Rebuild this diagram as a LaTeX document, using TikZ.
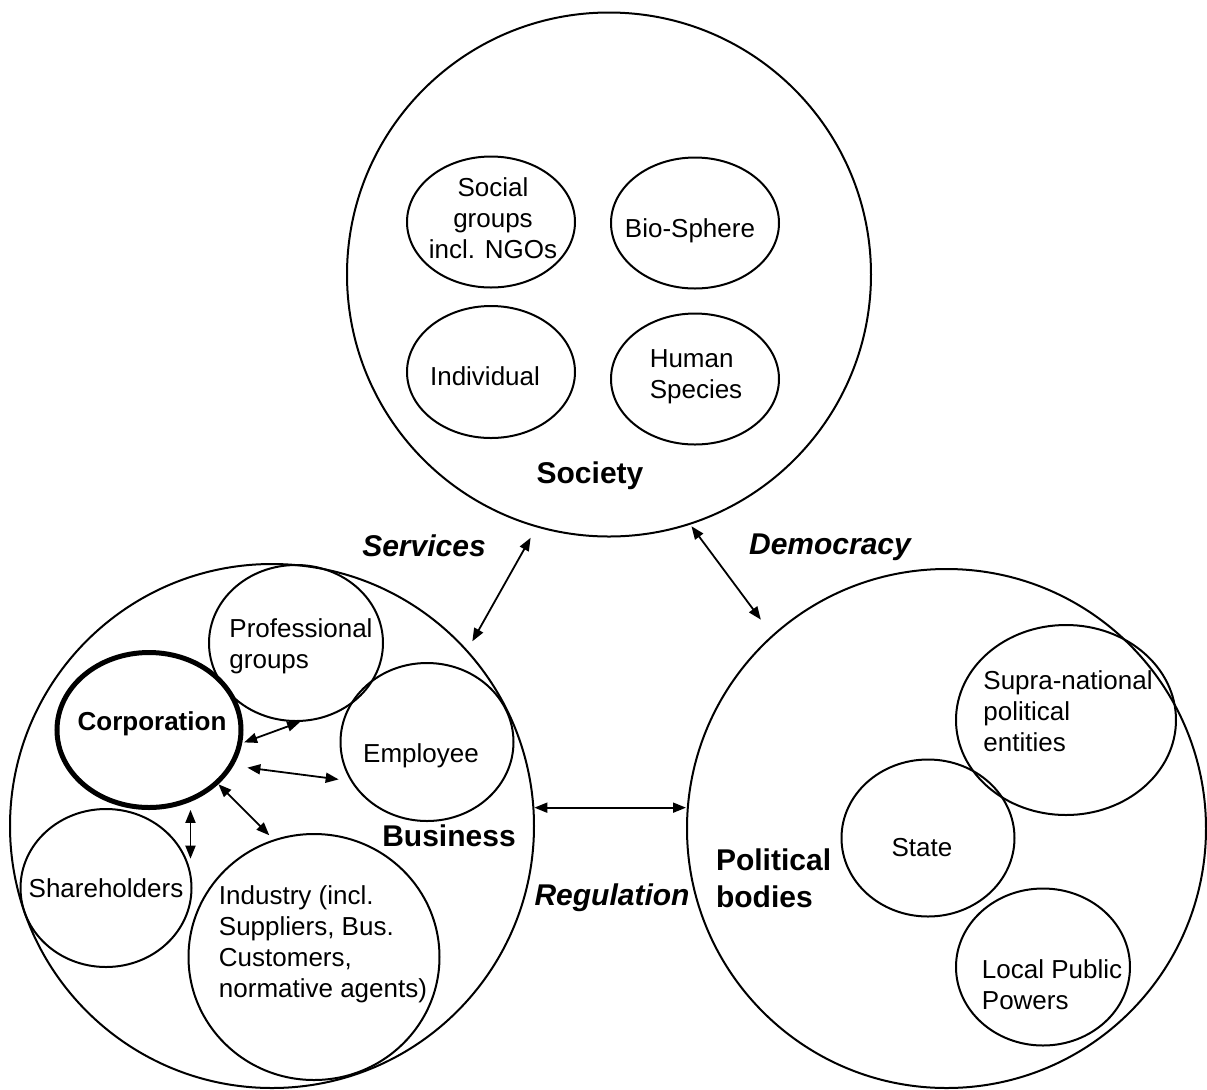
\documentclass[tikz,border=0pt]{standalone}
\usepackage{fontspec}
\setmainfont{Liberation Sans}
\usetikzlibrary{arrows.meta, shapes.geometric}

\begin{document}
\begin{tikzpicture}[
  x=0.5pt, y=-0.5pt,
  font=\fontsize{13}{15.5}\selectfont,
  sphere/.style={draw, circle, line width=1pt, inner sep=0pt, minimum size=#1pt},
  member/.style 2 args={draw, ellipse, line width=1pt, inner sep=0pt, minimum width=#1pt, minimum height=#2pt},
  lbl/.style={align=left, inner sep=0pt},
  title/.style={font=\fontsize{15}{18.5}\selectfont\bfseries, align=left},
  flow/.style={font=\fontsize{15}{18.5}\selectfont\bfseries\itshape},
  arrow/.style={{Triangle[length=6.5pt,width=5pt]}-{Triangle[length=6.5pt,width=5pt]}, line width=0.9pt}
]
\useasboundingbox (0,0) rectangle (1207,1089);

% --- Society ---
\node[sphere=262] (soc) at (609,274.5) {};
\node[member={84}{65.5}, label={[lbl, align=center, xshift=1pt, yshift=2pt]center:{Social\\groups\\incl. NGOs}}] (ngo) at (491,222) {};
\node[member={84}{65.5}, label={[lbl, xshift=-2.5pt, yshift=-4pt]center:{Bio-Sphere}}] (bio) at (695,223) {};
\node[member={84}{66}, label={[lbl, xshift=-3pt, yshift=-2pt]center:{Individual}}] (indiv) at (491,372) {};
\node[member={84}{65.5}, label={[lbl, xshift=0.5pt, yshift=1pt]center:{Human\\Species}}] (human) at (695,379) {};
\node[title] (soclbl) at (590,476) {Society};

% --- Business ---
\node[sphere=262] (bus) at (272,826) {};
\node[member={92}{77.5}, line width=2.5pt, label={[lbl, font=\fontsize{13}{15.5}\selectfont\bfseries, xshift=1.5pt, yshift=3pt]center:{Corporation}}] (corp) at (149,730) {};
\node[member={87}{78}, label={[lbl, xshift=2.5pt, yshift=-1.5pt]center:{Professional\\groups}}] (prof) at (296,643) {};
\node[member={86.5}{79}, label={[lbl, xshift=-3pt, yshift=-7pt]center:{Employee}}] (emp) at (427,742) {};
\node[member={85.5}{79}, label={[lbl]center:{Shareholders}}] (share) at (106,888) {};
\node[member={125.5}{123}, label={[lbl, xshift=4.5pt, yshift=6.5pt]center:{Industry (incl.\\Suppliers, Bus.\\Customers,\\normative agents)}}] (ind) at (314,957) {};
\node[title] (buslbl) at (449,836) {Business};

% --- Political bodies ---
\node[sphere=259.5] (pol) at (946.5,828.5) {};
\node[member={110}{95}, label={[lbl, xshift=1pt, yshift=4.5pt]center:{Supra-national\\political\\entities}}] (supra) at (1066,720) {};
\node[member={86.5}{78.5}, label={[lbl, xshift=-3pt, yshift=-5pt]center:{State}}] (state) at (928,838) {};
\node[member={87}{78.5}, label={[lbl, xshift=4.5pt, yshift=-9pt]center:{Local Public\\Powers}}] (local) at (1043,967) {};
\node[title, anchor=west] (pollbl) at (709,878) {Political\\bodies};

% --- Relations ---
\node[flow] (serv) at (424,546) {Services};
\node[flow] (demo) at (830,547) {Democracy};
\node[flow] (regu) at (612,898) {Regulation};

% --- Arrows ---
\draw[arrow, shorten <=5pt, shorten >=6pt] (bus.42) -- (soc.-106);
\draw[arrow, shorten <=1pt, shorten >=9.5pt] (soc.-72) -- (pol.132);
\draw[arrow] (bus.4) -- (bus.4 -| pol.west);
\draw[arrow, shorten <=1pt] (corp.-8) -- (prof.-87);
\draw[arrow, shorten <=7pt, shorten >=6pt] (corp.-23) -- (emp.-153);
\draw[arrow, shorten >=3pt] (corp.-38) -- (ind.109);
\draw[arrow, shorten <=4pt] (corp.-60) -- (corp.-60 |- share.20);

\end{tikzpicture}
\end{document}
